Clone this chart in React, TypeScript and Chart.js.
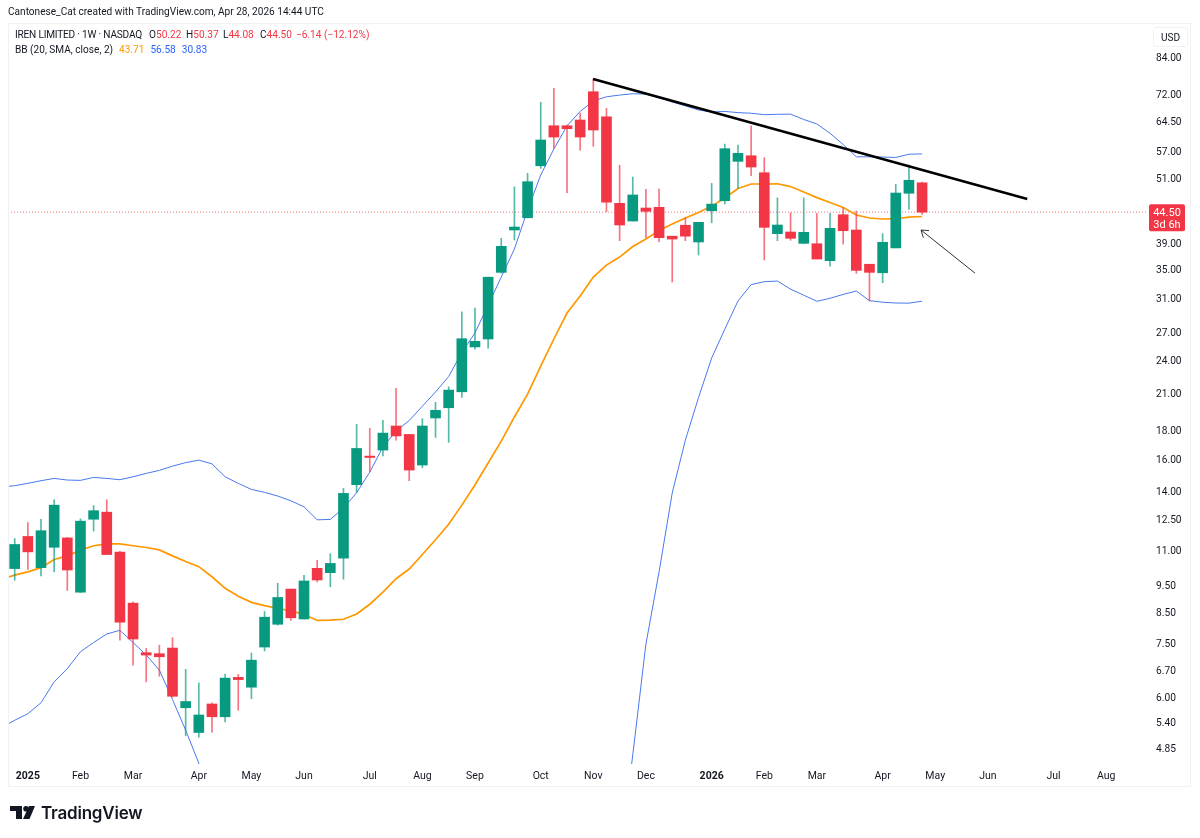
import { useEffect, useRef } from 'react';
import { Chart, registerables } from 'chart.js';

Chart.register(...registerables);

const FONT = 'Roboto, sans-serif';
const UP = '#089981';
const DOWN = '#F23645';
const BAND = '#2962FF';
const BASIS = '#FF9800';
const TEXT = '#131722';

// weekly candles, first one is the week of 30 Dec 2024
const opens = [
  10.24, 11.69, 10.28, 11.18, 11.62, 9.29, 12.55, 12.92, 10.96, 8.88,
  7.24, 7.21, 7.38, 5.77, 5.21, 5.86, 5.56, 6.54, 6.28, 7.41,
  8.14, 9.41, 8.32, 10.25, 10.07, 10.69, 14.47, 16.28, 16.69, 18.43,
  17.8, 15.69, 19.05, 19.87, 21.22, 25.53, 26.38, 34.72, 41.34, 43.48,
  53.87, 63.54, 63.54, 65.06, 73.1, 65.94, 46.15, 42.9, 45.26, 45.39,
  40.3, 42.16, 39.35, 44.76, 46.64, 54.87, 56.15, 52.35, 40.73, 41.0,
  39.13, 39.07, 36.43, 44.03, 41.34, 35.9, 34.66, 38.4, 48.1, 50.22,
];
const highs = [
  11.59, 12.38, 12.55, 13.6, 11.65, 12.57, 13.28, 13.6, 11.0, 8.93,
  7.37, 7.47, 7.7, 6.76, 6.39, 5.89, 6.63, 6.62, 7.23, 8.58,
  9.64, 9.41, 9.96, 10.59, 10.89, 14.25, 18.56, 18.26, 18.87, 21.52,
  17.8, 19.0, 20.32, 21.66, 29.5, 29.97, 34.05, 39.95, 49.4, 52.22,
  69.99, 74.13, 63.7, 66.9, 77.03, 68.27, 54.0, 51.44, 48.88, 48.95,
  40.3, 43.44, 42.67, 50.1, 58.9, 58.7, 63.5, 55.7, 47.2, 44.4,
  47.2, 44.3, 44.3, 45.3, 44.7, 35.9, 40.73, 49.9, 54.0, 50.37,
];
const lows = [
  9.76, 10.2, 9.94, 10.1, 9.36, 9.28, 11.95, 10.85, 7.62, 6.88,
  6.42, 6.57, 6.03, 5.14, 5.11, 5.22, 5.44, 5.71, 5.99, 7.29,
  8.11, 8.27, 8.31, 9.69, 9.5, 9.8, 14.02, 15.26, 16.3, 17.39,
  14.71, 15.51, 17.58, 17.23, 20.74, 25.3, 25.4, 34.62, 39.67, 43.48,
  53.3, 57.89, 48.22, 57.44, 58.36, 44.58, 39.56, 42.9, 40.05, 39.35,
  33.36, 39.56, 37.3, 42.6, 46.0, 49.1, 51.7, 36.53, 39.56, 39.63,
  39.07, 36.68, 35.63, 39.0, 34.58, 30.85, 33.27, 38.4, 45.0, 44.08,
];
const closes = [
  11.31, 10.97, 11.97, 13.3, 10.18, 12.45, 13.0, 10.85, 8.21, 7.66,
  7.17, 7.12, 6.05, 5.92, 5.6, 5.56, 6.52, 6.48, 7.02, 8.38,
  9.09, 8.36, 9.73, 9.77, 10.46, 13.96, 16.8, 16.19, 17.9, 17.69,
  15.37, 18.43, 19.66, 21.37, 26.41, 26.13, 34.03, 38.65, 41.85, 50.45,
  59.91, 60.65, 62.76, 60.65, 62.43, 46.35, 42.2, 47.76, 44.65, 40.05,
  39.83, 40.3, 42.67, 46.0, 57.8, 56.7, 53.6, 41.8, 42.2, 39.95,
  40.95, 36.68, 41.63, 41.22, 35.0, 34.72, 39.3, 48.15, 50.75, 44.5,
];

// Bollinger bands, these start one week before the first candle
const bbBasis = [
  9.8, 9.97, 10.1, 10.28, 10.63, 10.79, 11.05, 11.25, 11.34, 11.34, 11.25,
  11.17, 11.06, 10.79, 10.54, 10.32, 9.9, 9.44, 9.14, 8.91, 8.79,
  8.69, 8.6, 8.48, 8.27, 8.28, 8.31, 8.49, 8.84, 9.29, 9.82,
  10.22, 10.85, 11.53, 12.29, 13.3, 14.45, 15.82, 17.32, 19.13, 21.02,
  23.59, 26.38, 29.36, 31.5, 34.05, 35.78, 36.98, 38.62, 39.83, 41.25,
  42.37, 43.44, 44.43, 45.62, 47.16, 49.05, 49.97, 49.97, 50.03, 49.45,
  48.35, 47.25, 46.3, 45.35, 43.97, 43.44, 43.26, 43.31, 43.6, 43.71,
];
const bbUpper = [
  14.33, 14.41, 14.55, 14.71, 14.85, 14.75, 14.73, 14.91, 14.85, 14.77, 14.95,
  15.16, 15.35, 15.62, 15.85, 16.01, 15.77, 14.95, 14.55, 14.19, 14.02,
  13.81, 13.54, 13.21, 12.52, 12.54, 13.14, 14.0, 15.24, 16.9, 18.05,
  18.85, 20.0, 21.2, 22.6, 24.95, 27.04, 30.35, 34.05, 38.23, 44.89,
  51.85, 57.73, 63.5, 67.4, 70.36, 71.6, 72.1, 72.5, 72.4, 71.3,
  70.07, 68.96, 67.8, 67.25, 67.4, 67.07, 66.9, 66.5, 66.6, 66.65,
  65.2, 64.0, 61.6, 58.8, 55.9, 55.9, 55.85, 55.75, 56.5, 56.58,
];
// the lower band runs off the bottom of the pane from Apr to Nov 2025
const bbLower = [
  5.32, 5.48, 5.63, 5.89, 6.42, 6.78, 7.27, 7.55, 7.82, 7.94, 7.55,
  7.17, 6.74, 5.97, 5.26, 4.59, 4.03, null, null, null, null,
  null, null, null, null, null, null, null, null, null, null,
  null, null, null, null, null, null, null, null, null, null,
  null, null, null, null, null, null, 3.07, 4.75, 7.5, 10.1,
  13.98, 17.39, 20.72, 24.39, 27.48, 30.85, 33.0, 33.41, 33.5, 32.4,
  31.6, 30.82, 31.2, 31.7, 32.15, 30.9, 30.7, 30.6, 30.58, 30.83,
];

const priceTicks = [
  84, 72, 64.5, 57, 51, 39, 35, 31, 27, 24, 21, 18, 16, 14, 12.5, 11,
  9.5, 8.5, 7.5, 6.7, 6, 5.4, 4.85,
];
const monthWeeks = [1, 5, 9, 14, 18, 22, 27, 31, 35, 40, 44, 48, 53, 57, 61, 66, 70, 74, 79, 83];
const monthLabels = [
  '2025', 'Feb', 'Mar', 'Apr', 'May', 'Jun', 'Jul', 'Aug', 'Sep', 'Oct', 'Nov', 'Dec',
  '2026', 'Feb', 'Mar', 'Apr', 'May', 'Jun', 'Jul', 'Aug',
];

// drawings on the chart, as [week, price]
const trendLine = [[43.98, 77.03], [77, 46.97]];
const arrowLine = [[73.03, 34.6], [68.92, 41.34]];

const lastClose = closes[closes.length - 1];
const X_MIN = -0.51;
const X_MAX = 86.18;

const candles = (lo: number[], hi: number[]) =>
  opens.map((_, i) => ({ x: i, y: [lo[i], hi[i]] }));
const candleColors = opens.map((o, i) => (closes[i] >= o ? UP : DOWN));
const bandPoints = (values: (number | null)[]) =>
  values.map((y, i) => ({ x: i - 1, y }));
const pairPoints = (pts: number[][]) => pts.map(([x, y]) => ({ x, y }));

const overlays = {
  id: 'overlays',
  afterDraw(chart: any) {
    const { ctx, scales } = chart;
    const y = scales.y.getPixelForValue(lastClose);
    // last price tag
    ctx.save();
    ctx.fillStyle = DOWN;
    ctx.beginPath();
    ctx.roundRect(1149, y - 8, 36, 27, 2);
    ctx.fill();
    ctx.fillStyle = '#fff';
    ctx.font = `11px ${FONT}`;
    ctx.textAlign = 'center';
    ctx.textBaseline = 'middle';
    ctx.fillText(lastClose.toFixed(2), 1167, y + 1);
    ctx.fillText('3d 6h', 1167, y + 13);

    // arrow head on the thin line
    const [from, to] = arrowLine;
    const x0 = scales.x.getPixelForValue(from[0]);
    const y0 = scales.y.getPixelForValue(from[1]);
    const x1 = scales.x.getPixelForValue(to[0]);
    const y1 = scales.y.getPixelForValue(to[1]);
    const angle = Math.atan2(y1 - y0, x1 - x0);
    ctx.strokeStyle = '#333';
    ctx.lineWidth = 1;
    ctx.beginPath();
    ctx.moveTo(x1 - 8 * Math.cos(angle - 0.6), y1 - 8 * Math.sin(angle - 0.6));
    ctx.lineTo(x1, y1);
    ctx.lineTo(x1 - 8 * Math.cos(angle + 0.6), y1 - 8 * Math.sin(angle + 0.6));
    ctx.stroke();
    ctx.restore();
  },
};

function WeeklyChart() {
  const canvasRef = useRef<HTMLCanvasElement>(null);
  const chartRef = useRef<Chart | null>(null);

  useEffect(() => {
    if (!canvasRef.current) return;
    chartRef.current?.destroy();

    chartRef.current = new Chart(canvasRef.current, {
      type: 'bar',
      plugins: [overlays],
      data: {
        datasets: [
          {
            type: 'line',
            label: 'Trend',
            data: pairPoints(trendLine),
            borderColor: '#000',
            borderWidth: 2.5,
            pointRadius: 0,
            order: 0,
          },
          {
            type: 'line',
            label: 'Arrow',
            data: pairPoints(arrowLine),
            borderColor: '#333',
            borderWidth: 1,
            pointRadius: 0,
            order: 0,
          },
          {
            label: 'Body',
            data: candles(opens, closes),
            backgroundColor: candleColors,
            barThickness: 10,
            grouped: false,
            order: 1,
          },
          {
            label: 'Wick',
            data: candles(lows, highs),
            backgroundColor: candleColors.map((c) => c + 'B0'),
            barThickness: 1,
            grouped: false,
            order: 2,
          },
          {
            type: 'line',
            label: 'BB upper',
            data: bandPoints(bbUpper),
            borderColor: '#4A78F0',
            borderWidth: 1,
            pointRadius: 0,
            order: 3,
          },
          {
            type: 'line',
            label: 'BB lower',
            data: bandPoints(bbLower),
            borderColor: '#4A78F0',
            borderWidth: 1,
            pointRadius: 0,
            spanGaps: false,
            order: 3,
          },
          {
            type: 'line',
            label: 'BB basis',
            data: bandPoints(bbBasis),
            borderColor: BASIS,
            borderWidth: 1.7,
            pointRadius: 0,
            order: 3,
          },
          {
            type: 'line',
            label: 'Last',
            data: [{ x: X_MIN, y: lastClose }, { x: X_MAX, y: lastClose }],
            borderColor: DOWN + 'B0',
            borderWidth: 1,
            borderDash: [1, 2],
            pointRadius: 0,
            order: 4,
          },
        ],
      } as any,
      options: {
        responsive: false,
        animation: false,
        events: [],
        layout: { padding: { left: 8, right: 9, top: 23, bottom: 51 } },
        plugins: {
          legend: { display: false },
          tooltip: { enabled: false },
        },
        scales: {
          x: {
            type: 'linear',
            offset: false,
            bounds: 'data',
            min: X_MIN,
            max: X_MAX,
            grid: { display: false, drawTicks: false },
            border: { display: false },
            afterBuildTicks: (scale: any) => {
              scale.ticks = monthWeeks.map((value) => ({ value }));
            },
            afterFit: (scale: any) => {
              scale.height = 23;
            },
            ticks: {
              color: TEXT,
              padding: 6,
              autoSkip: false,
              maxRotation: 0,
              minRotation: 0,
              font: (ctx: any) => {
                const label = monthLabels[monthWeeks.indexOf(ctx.tick?.value)];
                const isYear = label === '2025' || label === '2026';
                return { family: FONT, size: 10.5, weight: isYear ? 'bold' : 'normal' };
              },
              callback: (v: any) => monthLabels[monthWeeks.indexOf(Number(v))],
            },
          },
          y: {
            type: 'logarithmic',
            position: 'right',
            bounds: 'data',
            min: 4.576,
            max: 97.04,
            grid: { display: false, drawTicks: false },
            border: { display: false },
            afterBuildTicks: (scale: any) => {
              scale.ticks = priceTicks.map((value) => ({ value }));
            },
            afterFit: (scale: any) => {
              scale.width = 43;
            },
            ticks: {
              color: TEXT,
              padding: 8,
              autoSkip: false,
              font: { family: FONT, size: 10.2 },
              callback: (v: any) => Number(v).toFixed(2),
            },
          },
        },
      } as any,
    });

    return () => {
      chartRef.current?.destroy();
    };
  }, []);

  return <canvas ref={canvasRef} width={1200} height={838} style={{ display: 'block' }} />;
}

const abs = (left: number, top: number): React.CSSProperties => ({
  position: 'absolute',
  left,
  top,
  whiteSpace: 'nowrap',
  lineHeight: '14px',
});

export default function App() {
  return (
    <div style={{ position: 'absolute', left: 0, top: 0, width: 1200, height: 838, background: '#fff', overflow: 'hidden', fontFamily: FONT, fontSize: 10.1, color: TEXT }}>
      <div style={{ position: 'absolute', left: 8, top: 23, width: 1183, height: 764, border: '1px solid #eff1f6', boxSizing: 'border-box' }} />
      <WeeklyChart />
      <div style={abs(8, 5)}>Cantonese_Cat created with TradingView.com, Apr 28, 2026 14:44 UTC</div>
      <div style={abs(15, 28)}>
        <span style={{ letterSpacing: -0.2 }}>IREN LIMITED · 1W · NASDAQ</span>
        <span style={abs(134, 0)}>O<span style={{ color: DOWN }}>50.22</span></span>
        <span style={abs(171, 0)}>H<span style={{ color: DOWN }}>50.37</span></span>
        <span style={abs(208, 0)}>L<span style={{ color: DOWN }}>44.08</span></span>
        <span style={abs(245, 0)}>C<span style={{ color: DOWN }}>44.50</span></span>
        <span style={{ ...abs(281, 0), color: DOWN }}>−6.14 (−12.12%)</span>
      </div>
      <div style={abs(15, 43)}>
        BB (20, SMA, close, 2)
        <span style={{ marginLeft: 6, color: BASIS }}>43.71</span>
        <span style={{ marginLeft: 6, color: BAND }}>56.58</span>
        <span style={{ marginLeft: 6, color: BAND }}>30.83</span>
      </div>
      <div style={{ ...abs(1153, 27), width: 35, height: 20, lineHeight: '20px', textAlign: 'center', border: '1px solid #eff1f6', borderRadius: 3, boxSizing: 'border-box' }}>USD</div>
      <svg style={{ position: 'absolute', left: 10, top: 806 }} width={25} height={14} viewBox="0 0 25 14">
        <path d="M0 0H12V13H6V5H0Z M19 0L25 0L19.5 13L13 13Z" fill="#131722" />
        <circle cx={16} cy={2.8} r={2.8} fill="#131722" />
      </svg>
      <div style={{ ...abs(41, 801), fontFamily: 'Inter, sans-serif', fontSize: 17, fontWeight: 600, lineHeight: '24px', letterSpacing: -0.2 }}>TradingView</div>
    </div>
  );
}
